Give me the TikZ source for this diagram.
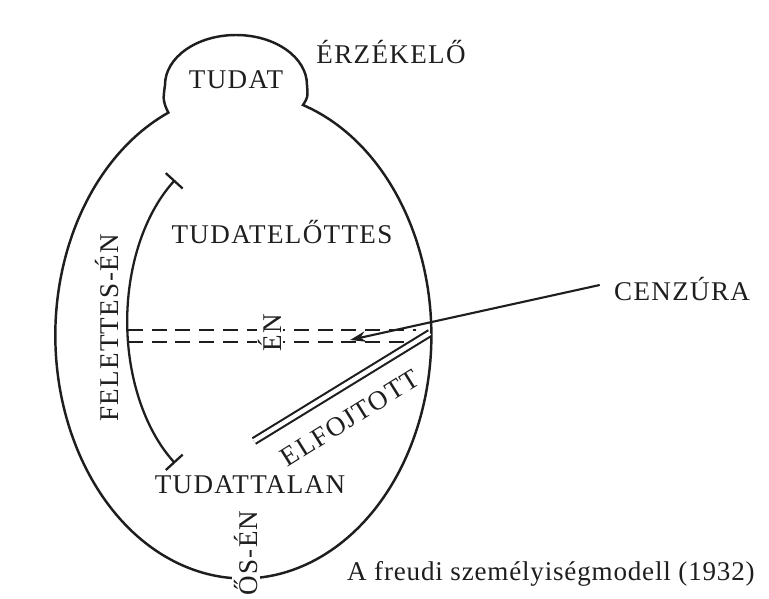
\documentclass[tikz,border=0pt]{standalone}
\usepackage{fontspec}
\setmainfont[LetterSpace=5]{Liberation Serif}
\newfontfamily\captionfont[LetterSpace=3]{Liberation Serif}
\usetikzlibrary{arrows.meta, positioning}
\definecolor{ink}{HTML}{1E1E1E}

\tikzset{
  lbl/.style={font=\fontsize{15.4}{18}\selectfont, text=ink, inner sep=1pt},
  eggline/.style={draw=ink, line width=1.4pt},
  barline/.style={draw=ink, line width=1.3pt, {Bar[width=13pt]}-{Bar[width=13pt]}},
  dashline/.style={draw=ink, line width=1.2pt, dash pattern=on 8.5pt off 5pt},
  censorline/.style={draw=ink, line width=1.2pt, -{Stealth[length=9pt, width=6pt]}},
  repline/.style={draw=ink, line width=1.2pt, double=white, double distance=2.4pt}
}

\begin{document}
\begin{tikzpicture}[x=0.02cm, y=-0.02cm]
\useasboundingbox (0,0) rectangle (769,599);

% egg with the small head on top
\draw[eggline] (167,110) .. controls (163,100) .. (165,85)
  arc[start angle=180, end angle=360, x radius=71, y radius=50]
  .. controls (308,97) .. (303,105)
  arc[start angle=-71.5, end angle=246.5, x radius=188, y radius=243]
  -- cycle;

% superego bracket
\draw[barline] (175,180) arc[start angle=234, end angle=126, x radius=116, y radius=175];

% ego band
\draw[dashline] (128,330) -- (416,330);
\draw[dashline] (128,342) -- (413,342);

% repression
\draw[repline] (254,441) -- (430,333);

% texts
\node[lbl, anchor=base] (tudat) at (236,88) {TUDAT};
\node[lbl, anchor=base] (erzekelo) at (391,63) {ÉRZÉKELŐ};
\node[lbl, anchor=base] (tudatelottes) at (282,243) {TUDATELŐTTES};
\node[lbl, anchor=base] (tudattalan) at (250,493) {TUDATTALAN};
\node[lbl, rotate=90] (felettes) at (107,328) {FELETTES-ÉN};
\node[lbl, rotate=90, fill=white] (en) at (270,333) {ÉN};
\node[lbl, rotate=32] (elfojtott) at (350,418) {ELFOJTOTT};
\node[lbl, rotate=90, fill=white] (osen) at (246,553) {ŐS-ÉN};
\node[lbl, anchor=base west] (cenzura) at (612,300) {CENZÚRA};
\node[lbl, anchor=base west, font=\captionfont\fontsize{15.4}{18}\selectfont] (caption) at (345,580) {A freudi személyiségmodell (1932)};

% censorship arrow
\coordinate (cenz-tip) at (350,340);
\draw[censorline] ([xshift=-7pt, yshift=2pt]cenzura.west) -- (cenz-tip);
\end{tikzpicture}
\end{document}
